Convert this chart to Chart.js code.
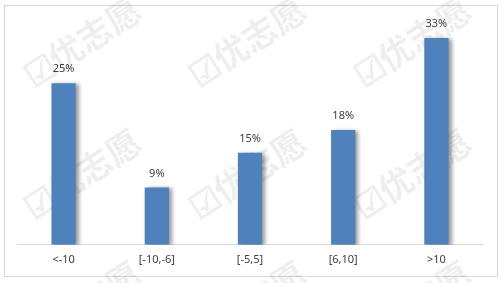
<!DOCTYPE html>
<html>
<head>
<meta charset="utf-8">
<script src="https://cdn.jsdelivr.net/npm/chart.js@4"></script>
<style>
  html, body { margin: 0; padding: 0; background: #fff; }
  #wrap { position: relative; width: 504px; height: 283px; }
</style>
</head>
<body>
<div id="wrap"><canvas id="chart" width="504" height="283"></canvas></div>
<script>
const categories = ['<-10', '[-10,-6]', '[-5,5]', '[6,10]', '>10'];
const shares = [25.6, 9.1, 14.6, 18.2, 32.8]; // percent
const shareLabels = ['25%', '9%', '15%', '18%', '33%'];

const BAR_BLUE = '#4f81bd';
const TEXT_COLOR = '#404040';

// faint watermark + frame behind everything
const backdrop = {
    id: 'backdrop',
    beforeDraw(chart) {
        const c = chart.ctx;
        c.save();
        c.fillStyle = '#fff';
        c.fillRect(0, 0, chart.width, chart.height);
        c.strokeStyle = '#d9d9d9';
        c.lineWidth = 1;
        c.strokeRect(4.5, 5.5, 493, 271);
        c.fillStyle = 'rgba(0,0,0,0.065)';
        c.font = 'bold 34px "Noto Sans CJK SC"';
        c.textAlign = 'center';
        c.textBaseline = 'middle';
        const spots = [[82, 42], [247, 42], [412, 42], [82, 174], [247, 174], [412, 174], [82, 306], [247, 306], [412, 306]];
        spots.forEach(([x, y]) => {
            c.save();
            c.translate(x, y);
            c.rotate(-33 * Math.PI / 180);
            c.fillText('☑优志愿', 0, 0);
            c.restore();
        });
        c.restore();
    }
};

// soft grey shadow to the right of the bars
const barShadow = {
    id: 'barShadow',
    beforeDatasetsDraw(chart) {
        const c = chart.ctx;
        c.save();
        c.shadowColor = 'rgba(0,0,0,0.4)';
        c.shadowBlur = 4;
        c.shadowOffsetX = 3;
        c.shadowOffsetY = 1;
    },
    afterDatasetsDraw(chart) {
        chart.ctx.restore();
    }
};

// value labels above each bar
const valueLabels = {
    id: 'valueLabels',
    afterDatasetsDraw(chart) {
        const c = chart.ctx;
        const meta = chart.getDatasetMeta(0);
        c.save();
        c.fillStyle = TEXT_COLOR;
        c.font = '11px "Noto Sans"';
        c.textAlign = 'center';
        c.textBaseline = 'middle';
        meta.data.forEach((bar, i) => {
            c.fillText(shareLabels[i], bar.x, bar.y - 14);
        });
        c.restore();
    }
};

new Chart(document.getElementById('chart').getContext('2d'), {
    type: 'bar',
    data: {
        labels: categories,
        datasets: [{
            data: shares,
            backgroundColor: BAR_BLUE,
            borderWidth: 0,
            categoryPercentage: 1,
            barPercentage: 0.26
        }]
    },
    options: {
        responsive: false,
        animation: false,
        layout: { padding: { left: 17, right: 21, top: 24, bottom: 17 } },
        plugins: { legend: { display: false }, tooltip: { enabled: false } },
        scales: {
            x: {
                grid: { display: false },
                border: { color: '#d9d9d9' },
                ticks: { color: TEXT_COLOR, font: { family: 'Noto Sans', size: 11 }, padding: 0, maxRotation: 0 }
            },
            y: {
                display: false,
                min: 0,
                max: 35
            }
        }
    },
    plugins: [backdrop, barShadow, valueLabels]
});
</script>
</body>
</html>
